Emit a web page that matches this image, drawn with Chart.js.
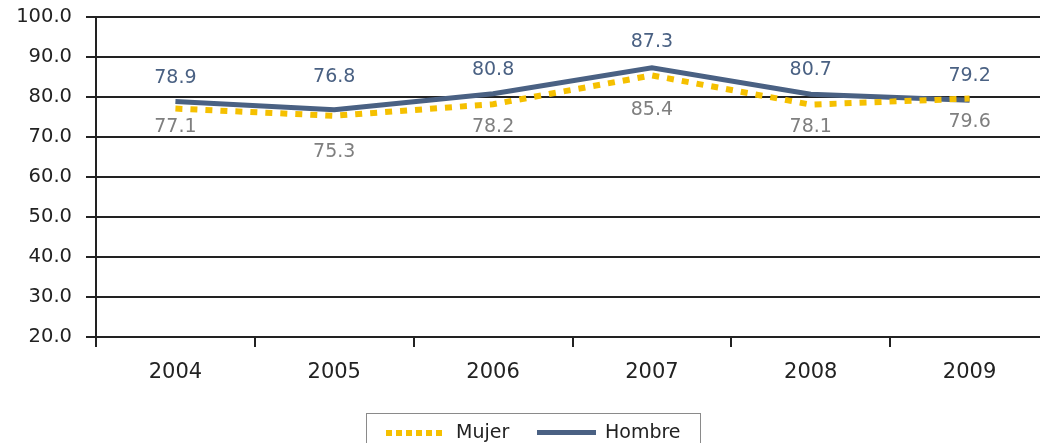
<!DOCTYPE html>
<html>
<head>
<meta charset="utf-8">
<script src="https://cdn.jsdelivr.net/npm/chart.js@4"></script>
<style>
  html, body { margin: 0; padding: 0; background: #fff; overflow: hidden; }
  #wrap { position: absolute; left: 0; top: 0; width: 1060px; height: 443px; }
  #legend {
    position: absolute; left: 366px; top: 413px; width: 335px; height: 40px;
    border: 1px solid #8a8a8a; box-sizing: border-box;
    font-family: "DejaVu Sans", sans-serif; font-size: 19px; color: #222;
  }
  #legend span { position: absolute; }
  .dots { height: 6px; width: 57px; top: 16px;
    background: repeating-linear-gradient(90deg, #f5c000 0 6px, transparent 6px 10px); }
  .solid { height: 5px; width: 59px; top: 16px; background: #4a6183; }
</style>
</head>
<body>
<div id="wrap"><canvas id="chart" width="1060" height="443"></canvas></div>
<div id="legend">
  <span class="dots" style="left:19px"></span>
  <span style="left:89px; top:6px">Mujer</span>
  <span class="solid" style="left:170px"></span>
  <span style="left:238px; top:6px">Hombre</span>
</div>
<script>
const years = ['2004', '2005', '2006', '2007', '2008', '2009'];
const mujer = [77.1, 75.3, 78.2, 85.4, 78.1, 79.6];
const hombre = [78.9, 76.8, 80.8, 87.3, 80.7, 79.2];

// vertical offsets of the value labels from their points (px)
const mujerLabelDy = [18, 36, 23, 35, 22, 23];
const hombreLabelDy = [-23, -33, -24, -26, -24, -24];

const valueLabels = {
  id: 'valueLabels',
  afterDatasetsDraw(chart) {
    const ctx = chart.ctx;
    ctx.save();
    ctx.font = '19px "DejaVu Sans"';
    ctx.textAlign = 'center';
    ctx.textBaseline = 'middle';
    chart.data.datasets.forEach((ds, di) => {
      const meta = chart.getDatasetMeta(di);
      ctx.fillStyle = ds.labelColor;
      meta.data.forEach((pt, i) => {
        ctx.fillText(ds.data[i].toFixed(1), pt.x, pt.y + ds.labelDy[i]);
      });
    });
    ctx.restore();
  }
};

new Chart(document.getElementById('chart'), {
  type: 'line',
  data: {
    labels: years,
    datasets: [
      {
        label: 'Mujer',
        data: mujer,
        borderColor: '#f5c000',
        borderWidth: 6,
        borderDash: [7, 8],
        borderCapStyle: 'butt',
        pointRadius: 0,
        tension: 0,
        labelColor: '#7f7f7f',
        labelDy: mujerLabelDy
      },
      {
        label: 'Hombre',
        data: hombre,
        borderColor: '#4a6183',
        borderWidth: 5,
        pointRadius: 0,
        tension: 0,
        labelColor: '#4a6183',
        labelDy: hombreLabelDy
      }
    ]
  },
  options: {
    responsive: false,
    animation: false,
    layout: { padding: { top: 17, right: 11, left: 0, bottom: 0 } },
    plugins: { legend: { display: false }, tooltip: { enabled: false } },
    scales: {
      x: {
        offset: true,
        grid: { offset: true, drawOnChartArea: false, color: '#222', lineWidth: 2, tickLength: 10 },
        border: { color: '#222', width: 2 },
        ticks: { color: '#222', font: { family: 'DejaVu Sans', size: 21 }, padding: 13 },
        afterFit(scale) { scale.height = 106; }
      },
      y: {
        min: 20,
        max: 100,
        ticks: {
          stepSize: 10,
          color: '#222',
          font: { family: 'DejaVu Sans', size: 19.5 },
          padding: 14,
          callback: v => v.toFixed(1)
        },
        grid: { color: '#222', lineWidth: 2, tickLength: 10 },
        border: { color: '#222', width: 2 },
        afterFit(scale) {
          scale.width = 96;
          scale.paddingTop = 0;
          scale.paddingBottom = 0;
        }
      }
    }
  },
  plugins: [valueLabels]
});
</script>
</body>
</html>
